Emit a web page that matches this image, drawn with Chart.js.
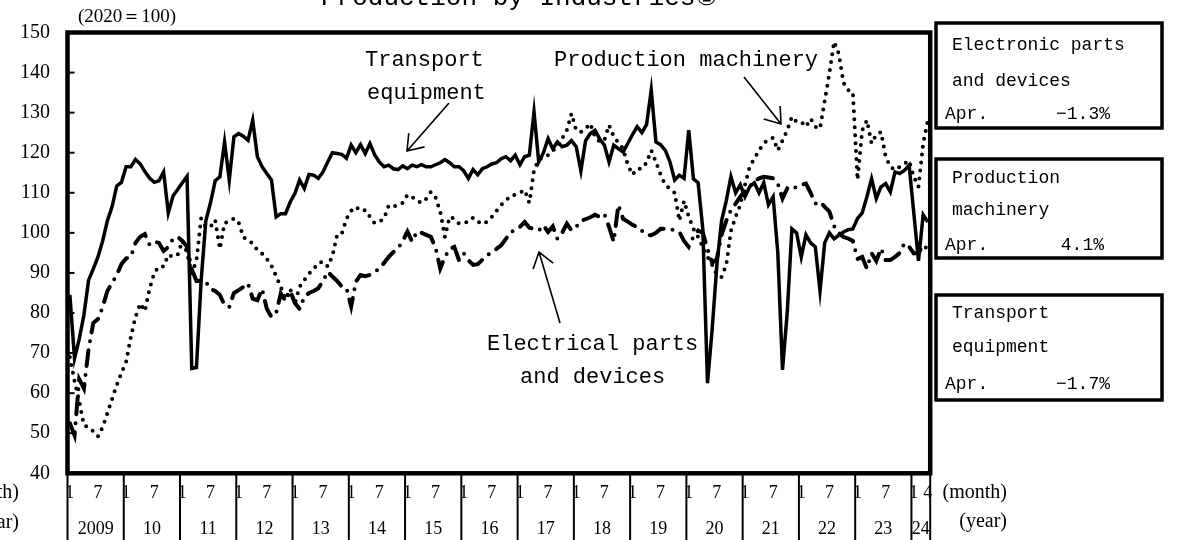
<!DOCTYPE html>
<html>
<head>
<meta charset="utf-8">
<title>Production by Industries</title>
<script src="https://cdn.jsdelivr.net/npm/chart.js@4.4.1/dist/chart.umd.min.js"></script>
<style>
  html, body { margin: 0; padding: 0; background: #fff; }
  #wrap { width: 1181px; height: 540px; }
</style>
</head>
<body>
<div id="wrap"><canvas id="prodChart" width="1181" height="540"></canvas></div>
<script>
// ---- data (2020 = 100), monthly Jan 2009 .. Apr 2024 ----
const yearLabels = ['2009', '10', '11', '12', '13', '14', '15', '16', '17', '18', '19', '20', '21', '22', '23', '24'];
const firstYear = 2009;
const lastMonth = 4;
const monthMarks = { 1: '1', 7: '7' };
const yTicks = [40, 50, 60, 70, 80, 90, 100, 110, 120, 130, 140, 150];

const transport = [
    84.5, 68.7, 73.5, 79.5, 88.2, 91, 94, 98, 103, 106.5, 111.7, 112.6,
    116.5, 116.5, 118.3, 117.2, 115.3, 113.7, 112.6, 113, 115.2, 105, 109.2, 110.8,
    112.5, 114.1, 66.2, 66.4, 88, 103, 107.5, 113, 114, 122.7, 113.2, 124,
    124.8, 124.1, 123.1, 128.1, 119, 116.5, 114.8, 113.2, 104, 104.8, 104.8, 107.7,
    109.8, 113.2, 111.1, 114.6, 114.4, 113.6, 115.2, 117.7, 120, 119.8, 119.6, 118.6,
    121.9, 120, 122, 119.8, 122.3, 119.5, 117.7, 116.5, 116.9, 116, 115.8, 116.7,
    116, 116.9, 116.5, 117, 116.5, 116.5, 117, 117.5, 118.3, 117.5, 116.5, 116.5,
    115.5, 113.6, 115.8, 114.5, 116, 116.5, 117.2, 117.5, 118.5, 119, 118, 119.4,
    117, 119, 119.4, 130.2, 117.7, 120, 123.5, 121, 122.7, 121.5, 121.9, 123,
    121.5, 115.5, 123, 124.8, 125.6, 123.5, 121.9, 117.7, 121.9, 121, 120.2, 122.3,
    124.5, 126.5, 125, 127, 135.6, 122.7, 122, 120.6, 117.7, 113.2, 114.4, 113.6,
    125.6, 113.5, 112.5, 101, 62.5, 76, 92, 103, 108, 114, 110, 112,
    109, 111.5, 112.5, 110, 112.5, 107, 109, 95, 65.8, 80, 101, 100,
    94, 99.5, 97.5, 96.5, 85.5, 97.5, 100, 98.5, 99.4, 100.2, 100.8, 101,
    103.6, 105, 109, 113.5, 108.6, 111.5, 112.3, 110.2, 115.2, 114.8, 115.6, 116.9,
    105, 93, 104.5, 102.7
];

const machinery = [
    69, 63, 58, 52, 51.5, 50.5, 49.2, 51.5, 55, 58.5, 62, 65,
    67.8, 74, 79, 82.4, 80.5, 86, 90, 91.6, 91.6, 94.5, 94, 94.5,
    98, 95, 89.9, 93, 103.6, 101.5, 101.5, 103.2, 96, 102.5, 102.8, 103.6,
    102.6, 99, 98, 97.4, 95.7, 94.8, 93.5, 91.8, 89.2, 86.5, 83.5, 86,
    82.4, 86.5, 88.2, 89.8, 91, 92.5, 92.8, 91.6, 94.2, 99.5, 99.8, 103.5,
    105.5, 106.5, 105.5, 105.7, 104, 102.4, 102.8, 103.5, 106.8, 106.5, 107, 107.5,
    109.5, 109, 108, 107.5, 108.5, 110.2, 108.8, 105.3, 99, 104, 103.5, 102.3,
    102.4, 102.8, 103.8, 102.8, 102.2, 102.8, 104, 105.5, 107, 108, 109.3, 109.5,
    110, 110.7, 107.5, 115.6, 118.3, 118.7, 119.4, 120.5, 121.5, 123.5, 125.6, 129.8,
    125.6, 125.2, 126, 127.3, 124, 122.7, 123.1, 126.9, 124, 122.5, 121, 117,
    114.5, 116, 116, 117.5, 120.6, 117.7, 114.5, 112, 111, 110, 103, 108,
    104, 101, 99, 96.5, 94, 92, 89.5, 89, 92, 100.5, 104, 107,
    112, 116.5, 118.5, 120.6, 122.3, 123.3, 123.7, 120.6, 123.1, 125.6, 129, 127.7,
    127.7, 126.5, 128.5, 126.5, 126, 133, 139.8, 147.7, 144.7, 137.5, 135.6, 135.2,
    113.2, 125.6, 128.1, 122.3, 124.5, 125.2, 119, 116.5, 115.7, 116.5, 117.3, 118,
    114, 111.5, 122.3, 128.1
];

const electronic = [
    52.5, 49.5, 63.5, 61.2, 71, 77.5, 78.5, 81.5, 85.5, 87.5, 89.5, 92.2,
    93.6, 94, 97.5, 99, 99.7, 97, 97.8, 97.5, 95.5, 96.5, 98.5, 99,
    98, 96.5, 91, 88, 88, 87.8, 86, 85.5, 84.5, 82, 81.5, 85,
    85.7, 86.5, 87.4, 83.6, 83.2, 86, 81.1, 79, 80, 84.9, 83, 85.5,
    82.5, 81, 84, 85, 85.5, 86.2, 88, 90.3, 89.1, 88, 86.6, 86.2,
    81.6, 87.8, 89.5, 89.2, 89.5, 90.3, 91, 92.5, 94, 95.2, 96.1, 98,
    100.3, 97.8, 100.3, 100, 99.5, 99, 96.3, 91.1, 94, 96, 96.5, 93.2,
    94.9, 93.2, 92, 92.2, 93.3, 94.5, 95, 96, 96.9, 98.5, 100.3, 100.6,
    101.5, 102.7, 101.3, 101, 100.6, 101.9, 100.2, 101.6, 98.5, 100, 102.3, 100.6,
    101.5, 103, 103.4, 103.9, 104.5, 104, 104.7, 101.5, 97.8, 107, 103.5, 102.8,
    102, 101.5, 100.5, 99.5, 99.4, 100, 101, 101, 101, 100.6, 100.2, 98,
    96.5, 99, 100.6, 100, 96, 92.5, 93.5, 99.5, 103, 105.7, 107.3, 109,
    110.5, 111.5, 113, 113.6, 114, 113.8, 113.6, 112.3, 108.6, 111.1, 110.7, 111.5,
    112, 112.3, 110, 107.3, 107.8, 106.5, 105.3, 101.7, 100, 99, 98.6, 98,
    93.5, 94, 91.1, 94.9, 93, 96.1, 93.2, 93.2, 94, 95, 97.4, 96.5,
    94.9, 95, 97, 95.8
];

// April change vs previous month, as printed in the side boxes
const aprChange = { electronic: '−1.3%', machinery: '4.1%', transport: '−1.7%' };

const months = [];
yearLabels.forEach((y, k) => {
    const n = k === yearLabels.length - 1 ? lastMonth : 12;
    for (let m = 1; m <= n; m++) months.push((firstYear + k) + '-' + m);
});

const SERIF = '"Liberation Serif", "DejaVu Serif", serif';
const MONO = '"Liberation Mono", "DejaVu Sans Mono", monospace';

function arrow(ctx, x1, y1, x2, y2) {
    const ang = Math.atan2(y1 - y2, x1 - x2);
    const len = 18, spread = 0.62;
    ctx.beginPath();
    ctx.moveTo(x1, y1);
    ctx.lineTo(x2, y2);
    ctx.moveTo(x2 + len * Math.cos(ang - spread), y2 + len * Math.sin(ang - spread));
    ctx.lineTo(x2, y2);
    ctx.lineTo(x2 + len * Math.cos(ang + spread), y2 + len * Math.sin(ang + spread));
    ctx.stroke();
}

const decor = {
    id: 'decor',
    afterDraw(chart) {
        const ctx = chart.ctx;
        const a = chart.chartArea;
        const xs = chart.scales.x;
        const ys = chart.scales.y;
        const H = chart.height;
        ctx.save();
        ctx.strokeStyle = '#000';
        ctx.fillStyle = '#000';
        ctx.textBaseline = 'alphabetic';

        // plot frame
        ctx.lineWidth = 4.5;
        ctx.strokeRect(a.left, a.top, a.right - a.left, a.bottom - a.top);

        // inner tick marks on the value axis
        ctx.lineWidth = 2;
        yTicks.slice(1, -1).forEach(v => {
            const y = ys.getPixelForValue(v);
            ctx.beginPath();
            ctx.moveTo(a.left, y);
            ctx.lineTo(a.left + 7, y);
            ctx.stroke();
        });

        // year dividers, month and year labels
        const bin = (a.right - a.left) / months.length;
        ctx.font = '18px ' + SERIF;
        ctx.textAlign = 'center';
        yearLabels.forEach((lab, k) => {
            const start = xs.getPixelForValue(k * 12) - bin / 2;
            const end = k === yearLabels.length - 1 ? a.right : xs.getPixelForValue((k + 1) * 12) - bin / 2;
            ctx.beginPath();
            ctx.moveTo(start, a.bottom);
            ctx.lineTo(start, H);
            ctx.stroke();
            ctx.fillText(lab, (start + end) / 2, 534);
        });
        ctx.beginPath();
        ctx.moveTo(a.right, a.bottom);
        ctx.lineTo(a.right, H);
        ctx.stroke();
        months.forEach((m, i) => {
            const mo = +m.split('-')[1];
            let t = monthMarks[mo];
            if (i === months.length - 1) t = String(mo);
            if (t) ctx.fillText(t, xs.getPixelForValue(i), 498);
        });

        ctx.font = '20px ' + SERIF;
        ctx.textAlign = 'right';
        ctx.fillText('(month)', 19, 498);
        ctx.fillText('(year)', 19, 528);
        ctx.fillText('(month)', 1007, 498);
        ctx.fillText('(year)', 1007, 527);

        ctx.textAlign = 'left';
        ctx.font = '19px ' + SERIF;
        ctx.fillText('(2020＝100)', 78, 22);

        // title (cut at the top edge)
        ctx.font = '26px ' + MONO;
        ctx.fillText('Production by Industries①', 321, 5);

        // series annotations
        ctx.font = '22px ' + MONO;
        ctx.fillText('Transport', 365, 66);
        ctx.fillText('equipment', 367, 99);
        ctx.fillText('Production machinery', 554, 66);
        ctx.fillText('Electrical parts', 487, 350);
        ctx.fillText('and devices', 520, 383);
        ctx.lineWidth = 1.6;
        arrow(ctx, 449, 103, 407, 151);
        arrow(ctx, 744, 77, 781, 124);
        arrow(ctx, 560, 323, 539, 252);

        // side boxes with the April change
        const boxes = [
            { top: 23, bottom: 128, lines: ['Electronic parts', 'and devices'], value: aprChange.electronic, base: [50, 86, 119] },
            { top: 159, bottom: 258, lines: ['Production', 'machinery'], value: aprChange.machinery, base: [183, 215, 250] },
            { top: 295, bottom: 400, lines: ['Transport', 'equipment'], value: aprChange.transport, base: [318, 352, 389] }
        ];
        boxes.forEach(b => {
            ctx.lineWidth = 3.5;
            ctx.strokeRect(936, b.top, 226, b.bottom - b.top);
            ctx.font = '18px ' + MONO;
            ctx.textAlign = 'left';
            ctx.fillText(b.lines[0], 952, b.base[0]);
            ctx.fillText(b.lines[1], 952, b.base[1]);
            ctx.fillText('Apr.', 945, b.base[2]);
            ctx.textAlign = 'right';
            ctx.fillText(b.value, b.value.startsWith('−') ? 1110 : 1104, b.base[2]);
        });
        ctx.restore();
    }
};

const ctx = document.getElementById('prodChart').getContext('2d');
new Chart(ctx, {
    type: 'line',
    data: {
        labels: months,
        datasets: [{
            label: 'Transport equipment',
            data: transport,
            borderColor: '#000',
            borderWidth: 3.5,
            pointRadius: 0,
            tension: 0
        }, {
            label: 'Production machinery',
            data: machinery,
            borderColor: '#000',
            borderWidth: 4,
            borderDash: [0, 8],
            borderCapStyle: 'round',
            pointRadius: 0,
            tension: 0
        }, {
            label: 'Electronic parts and devices',
            data: electronic,
            borderColor: '#000',
            borderWidth: 4,
            borderDash: [16, 9, 0, 9],
            borderCapStyle: 'round',
            pointRadius: 0,
            tension: 0
        }]
    },
    options: {
        responsive: false,
        animation: false,
        events: [],
        layout: {
            padding: { left: 0, top: 32.5, right: 250.8, bottom: 66.7 }
        },
        plugins: {
            legend: { display: false },
            tooltip: { enabled: false },
            title: { display: false }
        },
        scales: {
            x: {
                type: 'category',
                offset: true,
                display: false
            },
            y: {
                min: yTicks[0],
                max: yTicks[yTicks.length - 1],
                afterFit: (scale) => { scale.width = 67.5; },
                ticks: {
                    stepSize: 10,
                    color: '#000',
                    padding: 17.5,
                    font: { family: 'Liberation Serif', size: 20 }
                },
                grid: { display: false, drawTicks: false },
                border: { display: false }
            }
        }
    },
    plugins: [decor]
});
</script>
</body>
</html>
